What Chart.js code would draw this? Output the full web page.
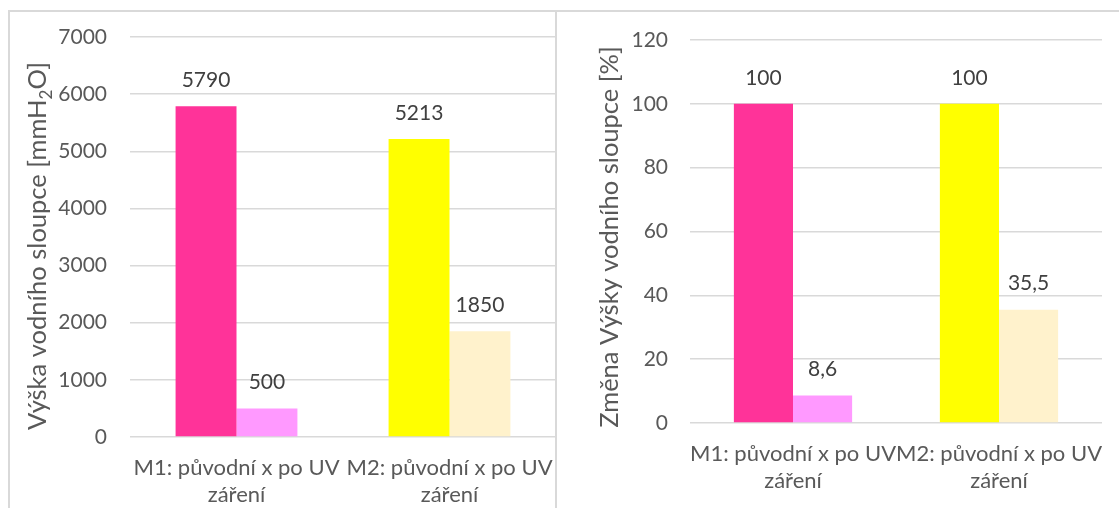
<!DOCTYPE html>
<html>
<head>
<meta charset="utf-8">
<script src="https://cdn.jsdelivr.net/npm/chart.js@4.4.1/dist/chart.umd.min.js"></script>
<style>
  html, body { margin: 0; padding: 0; background: #ffffff; }
  #wrap { position: relative; width: 1119px; height: 508px; overflow: hidden; }
  .box { position: absolute; border-left: 2px solid #d9d9d9; border-top: 2px solid #d9d9d9; }
  #boxA { left: 8px; top: 10px; width: 600px; height: 520px; }
  #boxB { left: 555px; top: 10px; width: 600px; height: 520px; }
  canvas { position: absolute; top: 0; }
  #chartA { left: 0; }
  #chartB { left: 556px; }
</style>
</head>
<body>
<div id="wrap">
  <div class="box" id="boxA"></div>
  <div class="box" id="boxB"></div>
  <canvas id="chartA" width="556" height="508"></canvas>
  <canvas id="chartB" width="563" height="508"></canvas>
</div>
<script>
// Categories (two-line labels)
const categories = [
  ['M1: původní x po UV', 'záření'],
  ['M2: původní x po UV', 'záření']
];

// Water column height [mmH2O]
const heightOriginal = [5790, 5213];
const heightAfterUV  = [500, 1850];

// Relative change of the water column height [%]
const changeOriginal = [100, 100];
const changeAfterUV  = [8.6, 35.5];

// Bar colours per category
const colorsOriginal = ['#FF3399', '#FFFF00'];
const colorsAfterUV  = ['#FF99FF', '#FFF2CC'];

// Axis tick settings
const heightTicks = { max: 7000, step: 1000 };
const changeTicks = { max: 120, step: 20 };

const FONT = 'Lato, "Open Sans", sans-serif';
const FONT_SIZE = 21;
const CAT_FONT_SIZE = 22;
const AXIS_TEXT = '#595959';
const LABEL_TEXT = '#404040';
const GRID = '#d9d9d9';

const fmt = v => String(v).replace('.', ',');

// Value labels above each bar
const valueLabels = {
  id: 'valueLabels',
  afterDatasetsDraw(chart) {
    const ctx = chart.ctx;
    ctx.save();
    ctx.font = FONT_SIZE + 'px ' + FONT;
    ctx.fillStyle = LABEL_TEXT;
    ctx.textAlign = 'center';
    ctx.textBaseline = 'middle';
    chart.data.datasets.forEach((ds, di) => {
      chart.getDatasetMeta(di).data.forEach((bar, i) => {
        ctx.fillText(fmt(ds.data[i]), bar.x, bar.y - 26);
      });
    });
    ctx.restore();
  }
};

// Rotated axis title, with optional subscript parts
const axisTitle = {
  id: 'axisTitle',
  afterDraw(chart, args, opts) {
    const ctx = chart.ctx;
    const size = opts.size, subSize = Math.round(size * 0.65);
    const big = size + 'px ' + FONT, small = subSize + 'px ' + FONT;
    let total = 0;
    opts.parts.forEach(p => { ctx.font = p.sub ? small : big; total += ctx.measureText(p.text).width; });
    ctx.save();
    ctx.translate(opts.x, opts.y);
    ctx.rotate(-Math.PI / 2);
    ctx.fillStyle = AXIS_TEXT;
    ctx.textBaseline = 'middle';
    ctx.textAlign = 'left';
    let pos = -total / 2;
    opts.parts.forEach(p => {
      ctx.font = p.sub ? small : big;
      ctx.fillText(p.text, pos, p.sub ? size * 0.33 : 0);
      pos += ctx.measureText(p.text).width;
    });
    ctx.restore();
  }
};

// Keep the plot area fixed: no extra side padding for wide category labels
function noSidePadding(scale) {
  scale.paddingLeft = 0;
  scale.paddingRight = 0;
}

function makeChart(id, original, afterUV, ticks, geom, titleParts) {
  return new Chart(document.getElementById(id), {
    type: 'bar',
    data: {
      labels: categories,
      datasets: [
        { data: original, backgroundColor: colorsOriginal, borderWidth: 0 },
        { data: afterUV, backgroundColor: colorsAfterUV, borderWidth: 0 }
      ]
    },
    options: {
      responsive: false,
      animation: false,
      events: [],
      layout: { padding: { top: geom.top, right: geom.right, left: 0, bottom: 0 } },
      datasets: { bar: { categoryPercentage: geom.cat, barPercentage: 1 } },
      plugins: {
        legend: { display: false },
        tooltip: { enabled: false },
        axisTitle: { parts: titleParts, x: geom.titleX, y: geom.titleY, size: geom.titleSize }
      },
      scales: {
        x: {
          grid: { display: false, drawTicks: false },
          border: { display: false },
          ticks: {
            color: AXIS_TEXT,
            font: { family: FONT, size: CAT_FONT_SIZE, lineHeight: 1.23 },
            padding: geom.xPad,
            autoSkip: false,
            maxRotation: 0,
            minRotation: 0
          },
          afterFit(scale) { scale.height = geom.xHeight; noSidePadding(scale); }
        },
        y: {
          min: 0,
          max: ticks.max,
          grid: { color: GRID, lineWidth: 1.5, drawTicks: false },
          border: { display: false },
          ticks: {
            stepSize: ticks.step,
            color: AXIS_TEXT,
            font: { family: FONT, size: FONT_SIZE },
            padding: geom.yPad,
            callback: v => String(v)
          },
          afterFit(scale) { scale.width = geom.yWidth; }
        }
      }
    },
    plugins: [valueLabels, axisTitle]
  });
}

makeChart('chartA', heightOriginal, heightAfterUV, heightTicks,
  { top: 37, right: 0, yWidth: 130, xHeight: 71, yPad: 23, xPad: 17, cat: 0.572,
    titleX: 38, titleY: 246, titleSize: 25.5 },
  [ { text: 'Výška vodního sloupce [mmH' }, { text: '2', sub: true }, { text: 'O]' } ]);

makeChart('chartB', changeOriginal, changeAfterUV, changeTicks,
  { top: 40, right: 17, yWidth: 134, xHeight: 85, yPad: 22, xPad: 17, cat: 0.574,
    titleX: 54, titleY: 237, titleSize: 25.5 },
  [ { text: 'Změna Výšky vodního sloupce [%]' } ]);
</script>
</body>
</html>
